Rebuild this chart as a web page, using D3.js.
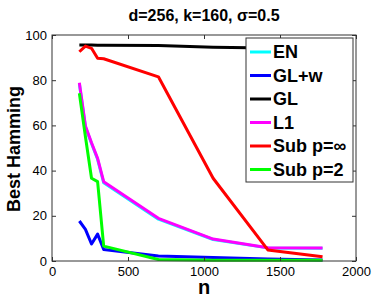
<!DOCTYPE html>
<html>
<head>
<meta charset="utf-8">
<script src="https://cdn.jsdelivr.net/npm/d3@7"></script>
<style>
  body { margin: 0; background: #fff; }
  text { font-family: "Liberation Sans", Arial, sans-serif; }
</style>
</head>
<body>
<svg id="chart" width="374" height="298"></svg>
<script>
// sample sizes on the x axis
var nValues = [180, 220, 260, 300, 340, 700, 1060, 1420, 1780];

var enVals   = [78.5, 59.3, 52, 45, 34.6, 18.5, 9.5, 5.8, 5.6];
var glwVals  = [17.7, 14, 7.5, 11.9, 5.1, 2.2, 1.6, 0.9, 0.4];
var glVals   = [95.6, 95.6, 95.6, 95.5, 95.5, 95.4, 94.6, 94.2, 94.1];
var l1Vals   = [78.9, 59.7, 52.3, 45.4, 35.1, 18.9, 9.7, 5.9, 5.7];
var subInf   = [92.6, 95.1, 94.1, 89.7, 89.5, 81.5, 36.6, 4.9, 1.9];
var sub2     = [74.2, 55, 36.6, 35.1, 6.6, 0.7, 0.3, 0.3, 0.3];

var seriesNames = ['EN', 'GL+w', 'GL', 'L1', 'Sub p=\u221e', 'Sub p=2'];
var seriesColors = ['#00ffff', '#0000ff', '#000000', '#ff00ff', '#ff0000', '#00ff00'];
var seriesVals = [enVals, glwVals, glVals, l1Vals, subInf, sub2];

var xTicks = [0, 500, 1000, 1500, 2000];
var yTicks = [0, 20, 40, 60, 80, 100];

var svg = d3.select('#chart');
var margin = {left: 52, top: 35, right: 18, bottom: 37};
var W = 374 - margin.left - margin.right;
var H = 298 - margin.top - margin.bottom;

var x = d3.scaleLinear().domain([0, 2000]).range([0, W]);
var y = d3.scaleLinear().domain([0, 100]).range([H, 0]);

var g = svg.append('g').attr('transform', 'translate(' + margin.left + ',' + margin.top + ')');

// lines, EN first so L1 covers it
var line = d3.line()
  .x(function(d, i) { return x(nValues[i]); })
  .y(function(d) { return y(d); });

seriesVals.forEach(function(vals, k) {
  g.append('path')
    .datum(vals)
    .attr('d', line)
    .attr('fill', 'none')
    .attr('stroke', seriesColors[k])
    .attr('stroke-width', 3)
    .attr('stroke-linejoin', 'round');
});

// box + ticks
var axisColor = '#333';
function styleAxis(sel, showLabels) {
  sel.select('.domain').remove();
  sel.selectAll('line').attr('stroke', axisColor);
  sel.selectAll('text')
    .attr('fill', '#000')
    .style('font-size', '13px')
    .style('display', showLabels ? null : 'none');
}

g.append('g')
  .attr('transform', 'translate(0,' + H + ')')
  .call(d3.axisBottom(x).tickValues(xTicks).tickSize(-4).tickPadding(6).tickFormat(d3.format('d')))
  .call(styleAxis, true);
g.append('g')
  .call(d3.axisTop(x).tickValues(xTicks).tickSize(-4).tickFormat(''))
  .call(styleAxis, false);
g.append('g')
  .call(d3.axisLeft(y).tickValues(yTicks).tickSize(-4).tickPadding(5).tickFormat(d3.format('d')))
  .call(styleAxis, true);
g.append('g')
  .attr('transform', 'translate(' + W + ',0)')
  .call(d3.axisRight(y).tickValues(yTicks).tickSize(-4).tickFormat(''))
  .call(styleAxis, false);

g.append('rect')
  .attr('width', W).attr('height', H)
  .attr('fill', 'none')
  .attr('stroke', axisColor)
  .attr('stroke-width', 1);

// legend
var lg = svg.append('g').attr('transform', 'translate(246,38)');
lg.append('rect')
  .attr('width', 107).attr('height', 144)
  .attr('fill', '#fff')
  .attr('stroke', axisColor)
  .attr('stroke-width', 1);
seriesNames.forEach(function(name, i) {
  var yy = 14 + i * 23.5;
  lg.append('line')
    .attr('x1', 4).attr('x2', 25)
    .attr('y1', yy).attr('y2', yy)
    .attr('stroke', seriesColors[i])
    .attr('stroke-width', 3);
  lg.append('text')
    .attr('x', 27).attr('y', yy)
    .attr('dy', '0.36em')
    .style('font-size', '18px')
    .style('font-weight', 'bold')
    .text(name);
});

// title and axis labels
svg.append('text')
  .attr('x', margin.left + W / 2).attr('y', 21)
  .attr('text-anchor', 'middle')
  .style('font-size', '16px')
  .style('font-weight', 'bold')
  .text('d=256, k=160, \u03c3=0.5');

svg.append('text')
  .attr('x', margin.left + W / 2).attr('y', 294)
  .attr('text-anchor', 'middle')
  .style('font-size', '20px')
  .style('font-weight', 'bold')
  .text('n');

svg.append('text')
  .attr('transform', 'translate(20,149) rotate(-90)')
  .attr('text-anchor', 'middle')
  .style('font-size', '18px')
  .style('font-weight', 'bold')
  .text('Best Hamming');
</script>
</body>
</html>
